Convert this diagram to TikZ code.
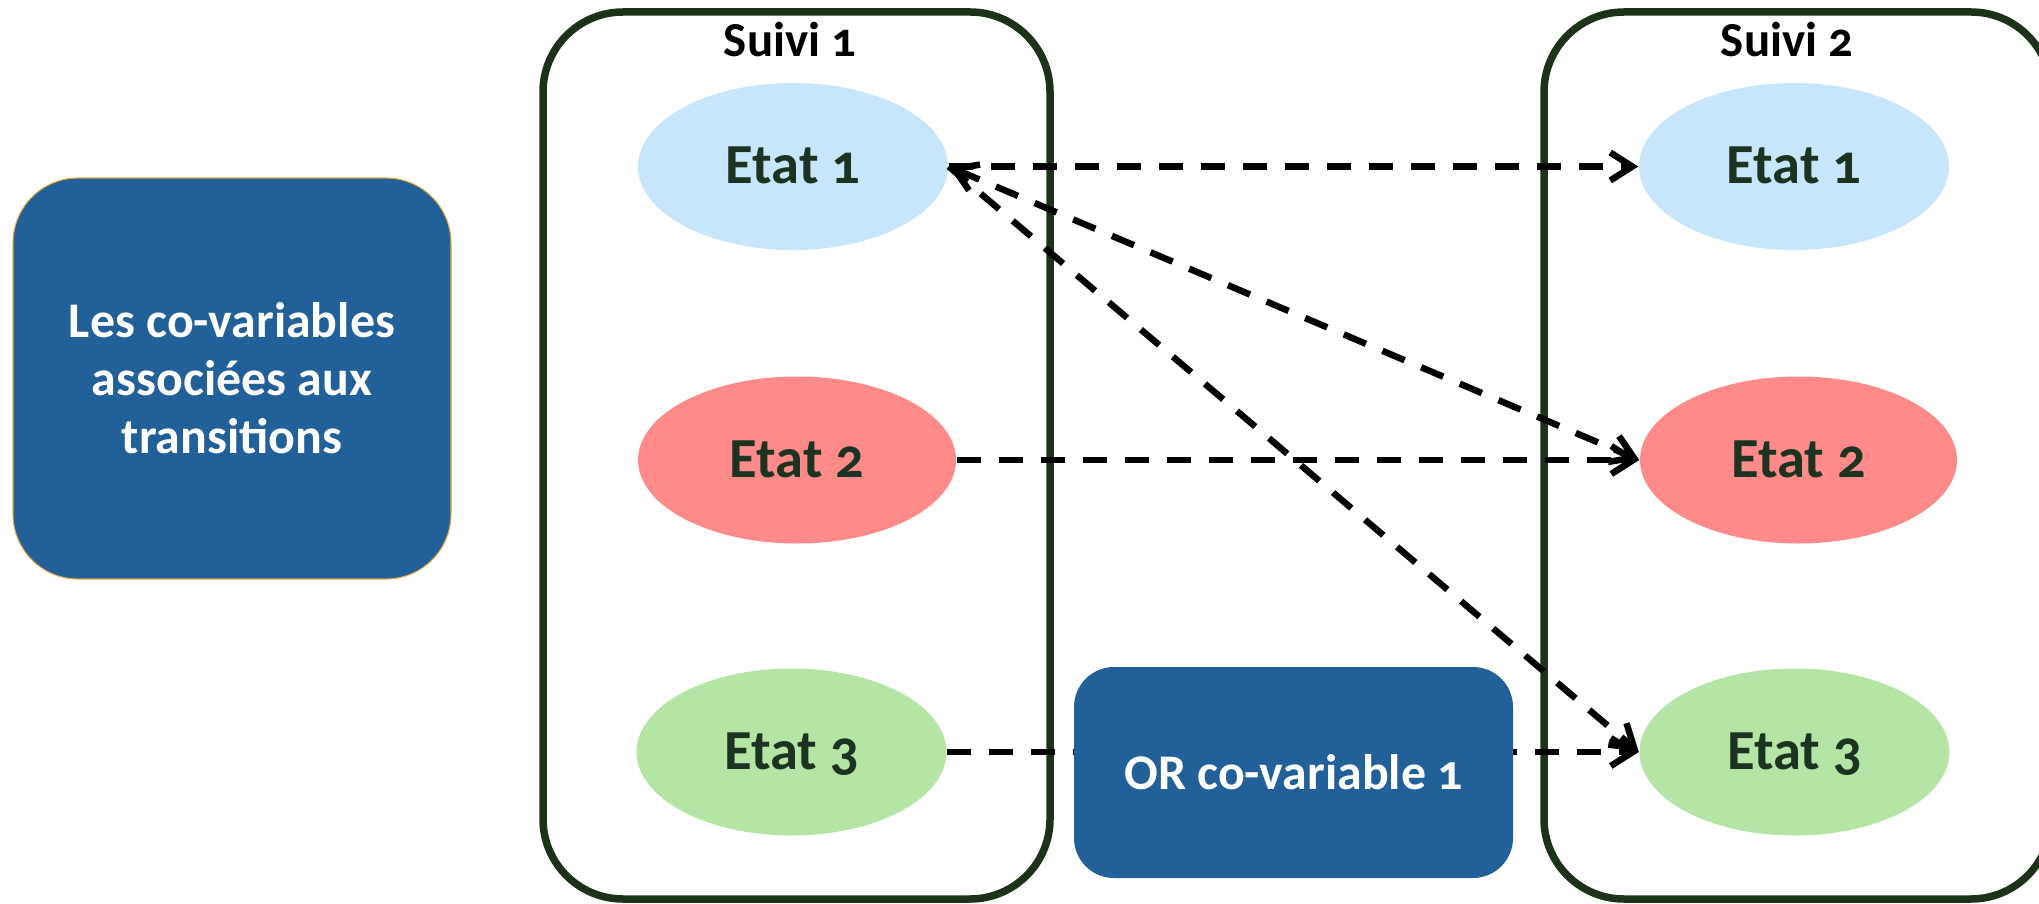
\documentclass[tikz,border=0pt]{standalone}
\usepackage{fontspec}
\setmainfont{Carlito}[Numbers=OldStyle]
\usepackage{tikz}
\usetikzlibrary{arrows.meta, positioning, shapes.geometric}
\definecolor{suivigreen}{HTML}{1C3319}
\definecolor{etatgreen}{HTML}{1B3320}
\definecolor{covarblue}{HTML}{22609A}
\definecolor{covargold}{HTML}{E2A73E}
\definecolor{etatbleu}{HTML}{C7E6FB}
\definecolor{etatrouge}{HTML}{FF8A8A}
\definecolor{etatvert}{HTML}{B5E5A4}

\begin{document}
\begin{tikzpicture}[
        every node/.style={align=center, anchor=center},
        >={Straight Barb[length=0.22cm, width=0.28cm]},
        suivibox/.style={rectangle, draw=suivigreen, line width=0.075cm,
                         rounded corners=0.8cm,
                         minimum width=5.07cm, minimum height=8.87cm},
        suivilbl/.style={text=black, font=\bfseries\fontsize{13.9}{16}\selectfont,
                         text height=0.32cm, text depth=0cm, inner sep=0pt},
        etat/.style={ellipse, minimum width=3.10cm, minimum height=1.67cm,
                     inner sep=0pt, text=etatgreen,
                     font=\bfseries\fontsize{16.1}{19}\selectfont,
                     text height=0.35cm, text depth=0cm},
        covar/.style={rectangle, fill=covarblue, text=white,
                      font=\bfseries\fontsize{14.2}{16.5}\selectfont, inner sep=0pt},
        trans/.style={draw=black, line width=0.065cm,
                      dash pattern=on 0.24cm off 0.18cm, ->}
    ]
        \useasboundingbox (0,0) rectangle (20.39,-9.04);

        \node[covar, draw=covargold, line width=0.3pt, rounded corners=0.65cm,
              minimum width=4.38cm, minimum height=4.01cm]
              (legende) at (2.32,-3.785) {Les co-variables\\associées aux\\transitions};

        \node[suivibox] (suivi1) at (7.965,-4.555) {};
        \node[suivibox] (suivi2) at (17.975,-4.555) {};
        \node[suivilbl] (lbl1) at (7.90,-0.41) {Suivi 1};
        \node[suivilbl] (lbl2) at (17.87,-0.41) {Suivi 2};

        \node[etat, fill=etatbleu]  (e1g) at (7.93,-1.665) {Etat 1};
        \node[etat, fill=etatrouge, minimum width=3.18cm] (e2g) at (7.97,-4.60) {Etat 2};
        \node[etat, fill=etatvert]  (e3g) at (7.915,-7.52) {Etat 3};

        \node[etat, fill=etatbleu]  (e1d) at (17.94,-1.665) {Etat 1};
        \node[etat, fill=etatrouge, minimum width=3.17cm] (e2d) at (17.985,-4.60) {Etat 2};
        \node[etat, fill=etatvert]  (e3d) at (17.945,-7.52) {Etat 3};

        \draw[trans] (e1g.east) -- (e1d.west);
        \draw[trans, <->] (e1g.east) -- (e2d.west);
        \draw[trans] (e1g.east) -- (e3d.west);
        \draw[trans] (e2g.east) -- (e2d.west);
        \draw[trans] (e3g.east) -- (e3d.west);

        \node[covar, rounded corners=0.4cm, minimum width=4.39cm, minimum height=2.11cm]
              (orcov) at (12.935,-7.725) {OR co-variable 1};
    \end{tikzpicture}
\end{document}
